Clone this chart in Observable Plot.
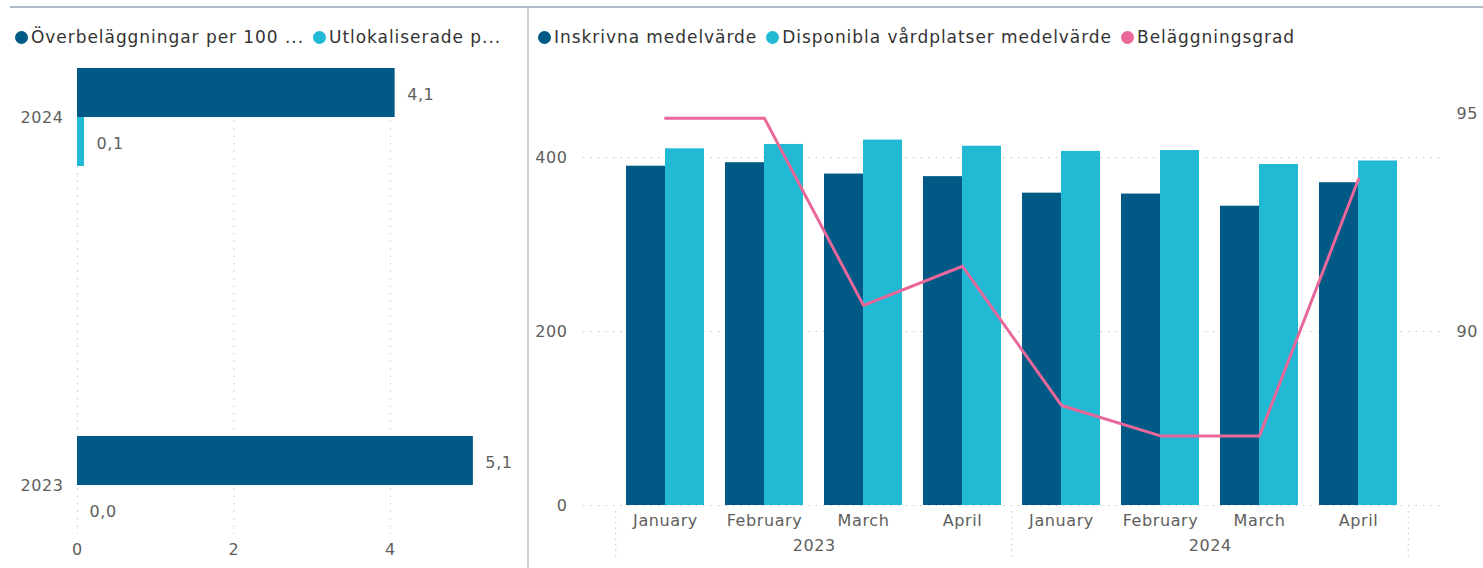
<!DOCTYPE html>
<html><head><meta charset="utf-8">
<script src="https://cdn.jsdelivr.net/npm/d3@7"></script>
<script src="https://cdn.jsdelivr.net/npm/@observablehq/plot@0.6"></script>
<style>
body{margin:0;background:#fff;font-family:"DejaVu Sans",sans-serif;}
#root{position:relative;width:1483px;height:568px;overflow:hidden;background:#fff;}
.legend{position:absolute;top:26px;height:22px;font-size:17px;letter-spacing:0.95px;color:#333;white-space:nowrap;display:flex;align-items:center;}
.legend .item{display:flex;align-items:center;margin-right:9px}
.legend .dot{width:13px;height:13px;border-radius:50%;margin-right:3px;}
.panel{position:absolute;top:0;}
.panel text{letter-spacing:0.6px;}
</style></head><body>
<div id="root"></div>
<script>
// ---------- data ----------
const years = ["2024", "2023"];
const overbelaggningar = [4.06, 5.06];
const utlokaliserade = [0.09, 0.0];
const leftSeries = ["Överbeläggningar per 100 ...", "Utlokaliserade p..."];
const leftTicks = [0, 2, 4];

const months = ["January", "February", "March", "April", "January", "February", "March", "April"];
const monthYears = ["2023", "2023", "2023", "2023", "2024", "2024", "2024", "2024"];
const inskrivna = [390, 394, 381, 378, 359, 358, 344, 371];
const disponibla = [410, 415, 420, 413, 407, 408, 392, 396];
const belaggningsgrad = [94.9, 94.9, 90.6, 91.5, 88.3, 87.6, 87.6, 93.5];
const rightSeries = ["Inskrivna medelvärde", "Disponibla vårdplatser medelvärde", "Beläggningsgrad"];
const barTicks = [0, 200, 400];
const lineTicks = [90, 95];

// ---------- styles ----------
const DARK = "#015A85", CYAN = "#21B9D3", PINK = "#E9679A";
const GRID = "#C8C6C4", TICK = "#605E5C";
const FONT = "DejaVu Sans";
const fmt = v => d3.format(".1f")(v).replace(".", ",");

const root = document.getElementById("root");

// frame lines
const topLine = document.createElement("div");
Object.assign(topLine.style, {position:"absolute", left:"10px", top:"6px", width:"1473px", height:"2px", background:"#AEBBC7"});
root.appendChild(topLine);
const divider = document.createElement("div");
Object.assign(divider.style, {position:"absolute", left:"527px", top:"7px", width:"2px", height:"561px", background:"#D0D0D0"});
root.appendChild(divider);

function legend(left, names, colors) {
  const lg = document.createElement("div");
  lg.className = "legend";
  lg.style.left = left + "px";
  names.forEach((n, i) => {
    const it = document.createElement("div"); it.className = "item";
    const dot = document.createElement("span"); dot.className = "dot"; dot.style.background = colors[i];
    const t = document.createElement("span"); t.textContent = n;
    it.appendChild(dot); it.appendChild(t); lg.appendChild(it);
  });
  root.appendChild(lg);
}
legend(15, leftSeries, [DARK, CYAN]);
legend(538, rightSeries, [DARK, CYAN, PINK]);

// ---------- left chart ----------
const leftData = years.map((y, i) => ({year: y, a: overbelaggningar[i], b: utlokaliserade[i]}));
const yL = {type: "band", domain: years, range: [68, 534], paddingInner: 0.7337, paddingOuter: 0};
const bwL = Plot.scale({y: yL}).bandwidth;

const left = Plot.plot({
  width: 528, height: 568,
  marginLeft: 77, marginRight: 52, marginTop: 68, marginBottom: 34,
  style: {fontFamily: FONT, fontSize: "16px", color: TICK, background: "transparent", overflow: "visible"},
  x: {domain: [0, 5.1]},
  y: yL,
  marks: [
    Plot.gridX(leftTicks, {stroke: GRID, strokeOpacity: 1, strokeDasharray: "1.5,6"}),
    Plot.axisX(leftTicks, {tickSize: 0, tickPadding: 9, label: null, fill: TICK}),
    Plot.axisY({tickSize: 0, tickPadding: 14, label: null, fill: TICK}),
    Plot.barX(leftData, {y: "year", x: "a", fill: DARK, insetBottom: bwL / 2}),
    Plot.barX(leftData, {y: "year", x: "b", fill: CYAN, insetTop: bwL / 2}),
    Plot.text(leftData, {y: "year", x: "a", text: d => fmt(d.a), dx: 12, dy: -bwL / 4 + 2, textAnchor: "start", fill: TICK, fontSize: 16}),
    Plot.text(leftData, {y: "year", x: "b", text: d => fmt(d.b), dx: 12, dy: bwL / 4 + 2, textAnchor: "start", fill: TICK, fontSize: 16})
  ]
});
left.classList.add("panel"); left.style.left = "0px";
root.appendChild(left);

// ---------- right chart ----------
const keys = months.map((m, i) => monthYears[i] + "|" + m);
const rightData = keys.map((k, i) => ({key: k, month: months[i], year: monthYears[i], ins: inskrivna[i], disp: disponibla[i], bel: belaggningsgrad[i]}));
const xR = {type: "band", domain: keys, range: [72.4, 890.6], padding: 0.2166};
const xRs = Plot.scale({x: xR});
const bwR = xRs.bandwidth, stepR = xRs.step;
const barDomain = [0, 500], lineDomain = [86, 96];
const toBar = d3.scaleLinear().domain(lineDomain).range(barDomain);

// year group labels and separators
const uniqYears = Array.from(new Set(monthYears));
const yearLabels = uniqYears.map(y => {
  const ks = keys.filter((k, i) => monthYears[i] === y);
  return {year: y, key: ks[Math.floor((ks.length - 1) / 2)]};
});
const sepBefore = uniqYears.map(y => keys[monthYears.indexOf(y)]);
const sepAfter = [keys[keys.length - 1]];

const sepStyle = {y1: 0, y2: 0, stroke: GRID, strokeDasharray: "1.5,4", insetTop: 6, insetBottom: -52};

const right = Plot.plot({
  width: 953, height: 568,
  marginLeft: 53, marginRight: 42, marginTop: 70, marginBottom: 63,
  style: {fontFamily: FONT, fontSize: "16px", color: TICK, background: "transparent", overflow: "visible"},
  x: xR,
  y: {domain: barDomain},
  marks: [
    Plot.gridY(barTicks, {stroke: GRID, strokeOpacity: 1, strokeDasharray: "1.5,6"}),
    Plot.axisY(barTicks, {anchor: "left", tickSize: 0, tickPadding: 16, label: null, fill: TICK}),
    Plot.axisY(lineTicks.map(toBar), {anchor: "right", tickSize: 0, tickPadding: 15, label: null, fill: TICK,
      tickFormat: v => d3.format("d")(Math.round(toBar.invert(v)))}),
    Plot.axisX({tickSize: 0, tickPadding: 9, label: null, fill: TICK, tickFormat: k => k.split("|")[1]}),
    Plot.barY(rightData, {x: "key", y: "ins", fill: DARK, insetRight: bwR / 2}),
    Plot.barY(rightData, {x: "key", y: "disp", fill: CYAN, insetLeft: bwR / 2}),
    Plot.line(rightData, {x: "key", y: d => toBar(d.bel), stroke: PINK, strokeWidth: 3, curve: "linear"}),
    Plot.ruleX(sepBefore, {x: d => d, dx: -stepR / 2, ...sepStyle}),
    Plot.ruleX(sepAfter, {x: d => d, dx: stepR / 2, ...sepStyle}),
    Plot.text(yearLabels, {x: "key", y: 0, text: "year", dx: stepR / 2, dy: 40, fill: TICK, fontSize: 16})
  ]
});
right.classList.add("panel"); right.style.left = "530px";
root.appendChild(right);
</script>
</body></html>
